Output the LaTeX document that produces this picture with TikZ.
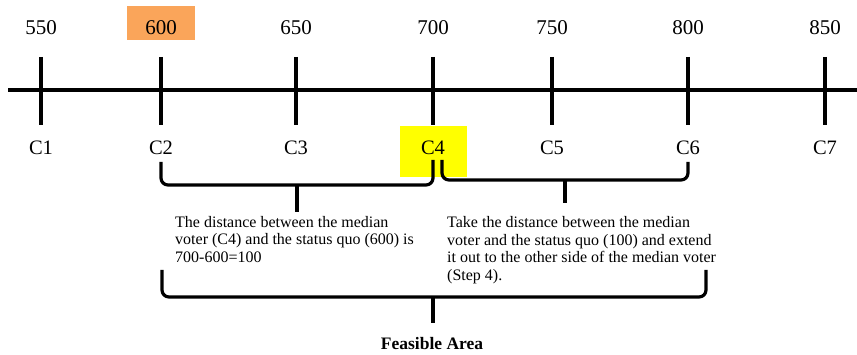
\documentclass[tikz,border=0pt]{standalone}
\usepackage{fontspec}
\setmainfont{Liberation Serif}
\definecolor{statusquo}{RGB}{250,165,90}
\definecolor{median}{RGB}{255,255,0}

\begin{document}
\begin{tikzpicture}[x=1pt, y=-1pt]
    \tikzstyle{value}=[
        inner sep = 0pt,
        font = \fontsize{21}{21}\selectfont
    ]
    \tikzstyle{voter}=[
        inner sep = 0pt,
        font = \fontsize{20.5}{21}\selectfont
    ]
    \tikzstyle{note}=[
        inner sep = 0pt,
        anchor = north west,
        align = left,
        font = \fontsize{16}{17.7}\selectfont
    ]
    \tikzstyle{axis line}=[
        line width = 3.4pt
    ]
    \tikzstyle{bracket}=[
        line width = 3.2pt,
        rounded corners = 7pt
    ]

    \useasboundingbox (0,0) rectangle (857,355);

    % highlight boxes
    \fill[statusquo] (127,6) rectangle (195,40);
    \fill[median]    (400,126) rectangle (467,177);

    % the line
    \coordinate (left)  at (8,90);
    \coordinate (right) at (857,90);
    \draw[axis line] (left) -- (right);

    \coordinate (t1) at (41,57);   \coordinate (b1) at (41,125);
    \coordinate (t2) at (161,57);  \coordinate (b2) at (161,125);
    \coordinate (t3) at (296,57);  \coordinate (b3) at (296,125);
    \coordinate (t4) at (433,57);  \coordinate (b4) at (433,125);
    \coordinate (t5) at (552,57);  \coordinate (b5) at (552,125);
    \coordinate (t6) at (688,57);  \coordinate (b6) at (688,125);
    \coordinate (t7) at (825,57);  \coordinate (b7) at (825,125);

    \draw[axis line] (t1) -- (b1);
    \draw[axis line] (t2) -- (b2);
    \draw[axis line] (t3) -- (b3);
    \draw[axis line] (t4) -- (b4);
    \draw[axis line] (t5) -- (b5);
    \draw[axis line] (t6) -- (b6);
    \draw[axis line] (t7) -- (b7);

    % positions
    \node[value] (v1) at (41,28)  {550};
    \node[value] (v2) at (161,28) {600};
    \node[value] (v3) at (296,28) {650};
    \node[value] (v4) at (433,28) {700};
    \node[value] (v5) at (552,28) {750};
    \node[value] (v6) at (688,28) {800};
    \node[value] (v7) at (825,28) {850};

    % voters
    \node[voter] (c1) at (41,148)  {C1};
    \node[voter] (c2) at (161,148) {C2};
    \node[voter] (c3) at (296,148) {C3};
    \node[voter] (c4) at (433,148) {C4};
    \node[voter] (c5) at (552,148) {C5};
    \node[voter] (c6) at (688,148) {C6};
    \node[voter] (c7) at (825,148) {C7};

    % brackets
    \coordinate (l1) at (161,162);  \coordinate (r1) at (433,160);
    \coordinate (m1) at (297,185);  \coordinate (p1) at (297,212);
    \draw[bracket] (l1) |- (m1) -| (r1);
    \draw[axis line] (m1) -- (p1);

    \coordinate (l2) at (442,160);  \coordinate (r2) at (688,162);
    \coordinate (m2) at (565,180);  \coordinate (p2) at (565,203);
    \draw[bracket] (l2) |- (m2) -| (r2);
    \draw[axis line] (m2) -- (p2);

    \coordinate (l3) at (162,270);  \coordinate (r3) at (706,270);
    \coordinate (m3) at (433,297);  \coordinate (p3) at (433,323);
    \draw[bracket] (l3) |- (m3) -| (r3);
    \draw[axis line] (m3) -- (p3);

    % notes
    \node[note] (n1) at (175,216) {The distance between the median\\voter (C4) and the status quo (600) is\\700-600=100};
    \node[note] (n2) at (447,216) {Take the distance between the median\\voter and the status quo (100) and extend\\it out to the other side of the median voter\\(Step 4).};
    \node[font=\bfseries\fontsize{17.5}{17.5}\selectfont, inner sep=0pt] (area) at (432,344) {Feasible Area};

\end{tikzpicture}
\end{document}
